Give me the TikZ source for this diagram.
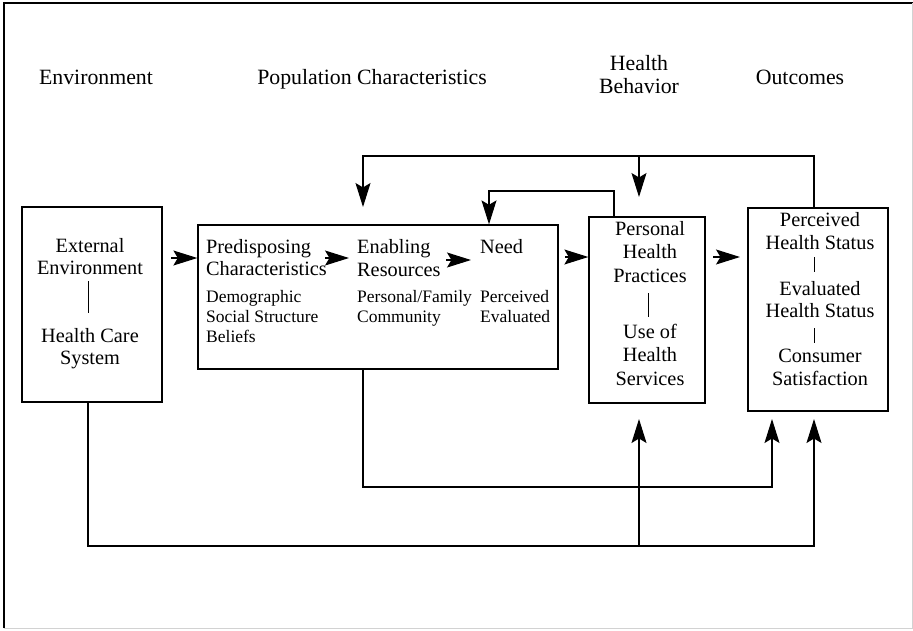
\documentclass[tikz,border=0pt]{standalone}
\usepackage{fontspec}
\setmainfont{Liberation Serif}
\usetikzlibrary{arrows.meta}
\tikzset{
  hdr/.style={font=\fontsize{21.8}{24}\selectfont, inner sep=0pt, anchor=base},
  bigc/.style={font=\fontsize{20.3}{22}\selectfont, inner sep=0pt, anchor=base},
  bigl/.style={font=\fontsize{20.3}{22}\selectfont, inner sep=0pt, anchor=base west},
  smalll/.style={font=\fontsize{17.5}{19}\selectfont, inner sep=0pt, anchor=base west},
  box/.style={draw, line width=1.3pt, inner sep=0pt},
  arr/.style={line width=1.1pt, -{Stealth[length=24pt,width=15pt,inset=4.5pt]}},
  tie/.style={line width=1pt}
}
\begin{document}
\begin{tikzpicture}[x=1pt,y=-1pt]
\useasboundingbox (0,0) rectangle (913,630);
% frame
\draw[line width=1.8pt] (4,628) -- (4,3) -- (913,3);
\draw[gray!35, line width=0.8pt] (912,3) -- (912,628) -- (4,628);

% column headings
\node[hdr] (hEnv) at (96,84) {Environment};
\node[hdr] (hPop) at (372,84) {Population Characteristics};
\node[hdr] (hBeh1) at (639,70) {Health};
\node[hdr] (hBeh2) at (639,93) {Behavior};
\node[hdr] (hOut) at (800,84) {Outcomes};

% boxes
\node[box, minimum width=140, minimum height=195] (envbox) at (92,304.5) {};
\node[box, minimum width=360, minimum height=144] (popbox) at (378,297) {};
\node[box, minimum width=116, minimum height=186] (behbox) at (647,310) {};
\node[box, minimum width=140, minimum height=203] (outbox) at (818,309.5) {};

% environment box
\node[bigc] (ext1) at (90,252) {External};
\node[bigc] (ext2) at (90,274) {Environment};
\node[bigc] (hcs1) at (90,342) {Health Care};
\node[bigc] (hcs2) at (90,364) {System};
\draw[tie] (88,281) -- (88,313);

% population characteristics box
\node[bigl] (pre1) at (206,253) {Predisposing};
\node[bigl] (pre2) at (206,275) {Characteristics};
\node[smalll] (pre3) at (206,302) {Demographic};
\node[smalll] (pre4) at (206,322) {Social Structure};
\node[smalll] (pre5) at (206,342) {Beliefs};
\node[bigl] (ena1) at (357,253) {Enabling};
\node[bigl] (ena2) at (357,276) {Resources};
\node[smalll] (ena3) at (357,302) {Personal/Family};
\node[smalll] (ena4) at (357,322) {Community};
\node[bigl] (need1) at (480,253) {Need};
\node[smalll] (need2) at (480,302) {Perceived};
\node[smalll] (need3) at (480,322) {Evaluated};
\draw[arr] (325,258) -- (349,258);
\draw[arr] (446,260) -- (471,260);

% health behavior box
\node[bigc] (beh1) at (650,235) {Personal};
\node[bigc] (beh2) at (650,258) {Health};
\node[bigc] (beh3) at (650,282) {Practices};
\node[bigc] (beh4) at (650,338) {Use of};
\node[bigc] (beh5) at (650,361) {Health};
\node[bigc] (beh6) at (650,385) {Services};
\draw[tie] (648,293) -- (648,317);

% outcomes box
\node[bigc] (out1) at (820,226) {Perceived};
\node[bigc] (out2) at (820,249) {Health Status};
\node[bigc] (out3) at (820,295) {Evaluated};
\node[bigc] (out4) at (820,317) {Health Status};
\node[bigc] (out5) at (820,362) {Consumer};
\node[bigc] (out6) at (820,385) {Satisfaction};
\draw[tie] (814,257) -- (814,272);
\draw[tie] (814,328) -- (814,343);

% forward flow
\draw[arr] (171,258) -- (popbox.west |- 0,258);
\draw[arr] (565,257) -- (behbox.west |- 0,257);
\draw[arr] (713,257) -- (740,257);

% feedback from outcomes and behaviour
\draw[arr] (outbox.north -| 814,0) |- (363,156) -- (363,207);
\draw[arr] (639,156) -- (639,197);
\draw[arr] (behbox.north -| 614,0) |- (489,191) -- (popbox.north -| 489,0);

% links from below
\draw[arr] (popbox.south -| 363,0) |- (772,487) -- (772,419);
\draw[arr] (envbox.south -| 88,0) |- (814,546) -- (814,419);
\draw[arr] (639,546) -- (639,419);
\end{tikzpicture}
\end{document}
